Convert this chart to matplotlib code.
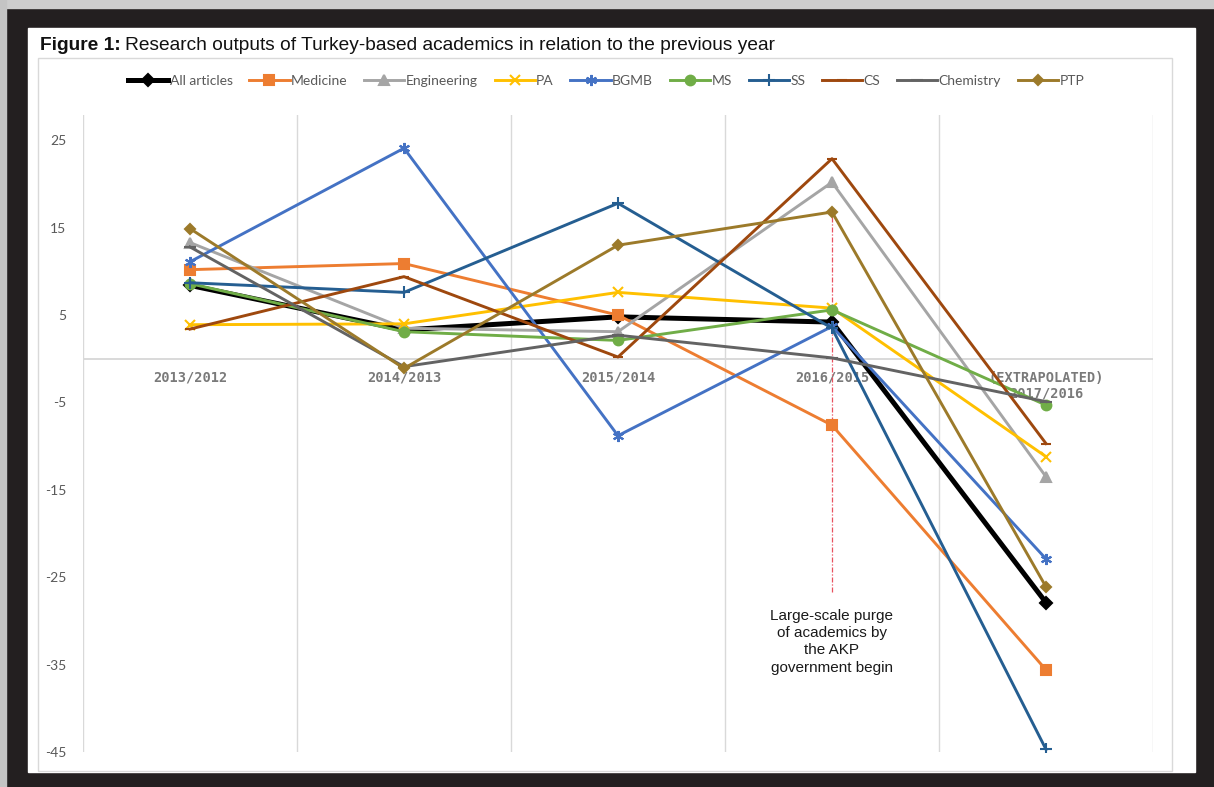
import matplotlib.pyplot as plt
from matplotlib.patches import Rectangle

plt.rcParams['axes.unicode_minus'] = False

categories = ['2013/2012', '2014/2013', '2015/2014', '2016/2015',
              '(EXTRAPOLATED)\n2017/2016']
all_articles = [8.4, 3.3, 4.8, 4.2, -27.9]
medicine = [10.2, 10.9, 5.0, -7.6, -35.6]
engineering = [13.3, 3.5, 3.1, 20.2, -13.5]
pa = [3.9, 4.0, 7.6, 5.8, -11.2]
bgmb = [11.1, 24.1, -8.8, 3.7, -22.9]
ms = [8.6, 3.1, 2.1, 5.6, -5.3]
ss = [8.7, 7.6, 17.8, 3.5, -44.7]
cs = [3.4, 9.4, 0.2, 22.9, -9.7]
chemistry = [12.8, -0.9, 2.7, 0.1, -4.9]
ptp = [14.9, -1.1, 13.0, 16.8, -26.1]
y_ticks = [25, 15, 5, -5, -15, -25, -35, -45]
purge_range = [17.4, -26.7]
purge_note = 'Large-scale purge\nof academics by\nthe AKP\ngovernment begin'

W, H = 1214, 787
fig = plt.figure(figsize=(W / 100, H / 100), dpi=100, facecolor='#231f20')


def fx(px):
    return px / W


def fy(py):
    return 1 - py / H


# photo background / card / chart frame
fig.patches.append(Rectangle((0, fy(8)), 1, 8 / H, transform=fig.transFigure,
                             color='#cdcdcd', zorder=-4))
fig.patches.append(Rectangle((0, 0), 6 / W, 1, transform=fig.transFigure,
                             color='#c4c4c4', zorder=-4))
fig.patches.append(Rectangle((fx(28), fy(772)), (1195 - 28) / W, (772 - 28) / H,
                             transform=fig.transFigure, color='white', zorder=-3))
fig.patches.append(Rectangle((fx(38), fy(771)), (1172 - 38) / W, (771 - 58) / H,
                             transform=fig.transFigure, facecolor='white',
                             edgecolor='#d9d9d9', lw=1, zorder=-2))

ax = fig.add_axes([fx(83), fy(752), (1153 - 83) / W, (752 - 115) / H])
ax.set_facecolor('none')
ax.set_xlim(-0.5, 4.5)
ax.set_ylim(-45, 27.9)
for s in ax.spines.values():
    s.set_visible(False)
for b in [-0.5, 0.5, 1.5, 2.5, 3.5, 4.5]:
    ax.axvline(b, color='#d9d9d9', lw=1, zorder=0)
ax.axhline(0, color='#d9d9d9', lw=1.4, zorder=0)

ax.set_xticks([])
ax.set_yticks(y_ticks)
ax.tick_params(axis='y', length=0, pad=12, labelcolor='#595959', labelsize=10)
for lab in ax.get_yticklabels():
    lab.set_family('Lato')

x = range(len(categories))
for i, cat in enumerate(categories):
    ax.annotate(cat, xy=(i, 0), xytext=(0, -12), textcoords='offset pixels',
                ha='center', va='top', family='DejaVu Sans Mono', weight='bold',
                size=9.8, color='#7a7a7a', linespacing=1.2, zorder=1)

series = [
    ('All articles', all_articles, 'black', 3.6, 'D', 6),
    ('Medicine', medicine, '#ED7D31', 2.1, 's', 7),
    ('Engineering', engineering, '#A5A5A5', 2.1, '^', 7),
    ('PA', pa, '#FFC000', 2.1, 'x', 7),
    ('BGMB', bgmb, '#4472C4', 2.1, (6, 2, 0), 8),
    ('MS', ms, '#70AD47', 2.1, 'o', 7),
    ('SS', ss, '#255E91', 2.1, '+', 8),
    ('CS', cs, '#9E480E', 2.1, '_', 7),
    ('Chemistry', chemistry, '#636363', 2.1, '_', 9),
    ('PTP', ptp, '#9C7A2A', 2.1, 'D', 5),
]
for name, vals, col, lw, mk, msz in series:
    ax.plot(x, vals, color=col, lw=lw, marker=mk, ms=msz, mew=1.5,
            mfc=col, mec=col, label=name, zorder=3)

ax.plot([3, 3], purge_range, color='#e8505f', lw=0.9,
        ls=(0, (4, 1.5, 1, 1.5)), zorder=2)
ax.text(3, -32.4, purge_note, ha='center', va='center', family='Liberation Sans',
        size=11, color='#1a1a1a', linespacing=1.28, zorder=4)

handles, labels = ax.get_legend_handles_labels()
fig.legend(handles, labels, loc='center', bbox_to_anchor=(fx(606), fy(81)),
           ncol=10, frameon=False, handlelength=2.9, handletextpad=0.1,
           columnspacing=1.2, prop={'family': 'Lato', 'size': 10},
           labelcolor='#595959')

t1 = fig.text(fx(40), fy(45), 'Figure 1:', weight='bold', family='Liberation Sans',
              size=13.8, va='center', color='#111111', zorder=5)
fig.canvas.draw()
bb = t1.get_window_extent(fig.canvas.get_renderer())
fig.text(bb.x1 / W + 4 / W, fy(45),
         'Research outputs of Turkey-based academics in relation to the previous year',
         family='Liberation Sans', size=13.8, va='center', color='#111111', zorder=5)

fig.savefig('out.png', dpi=100, facecolor=fig.get_facecolor())
